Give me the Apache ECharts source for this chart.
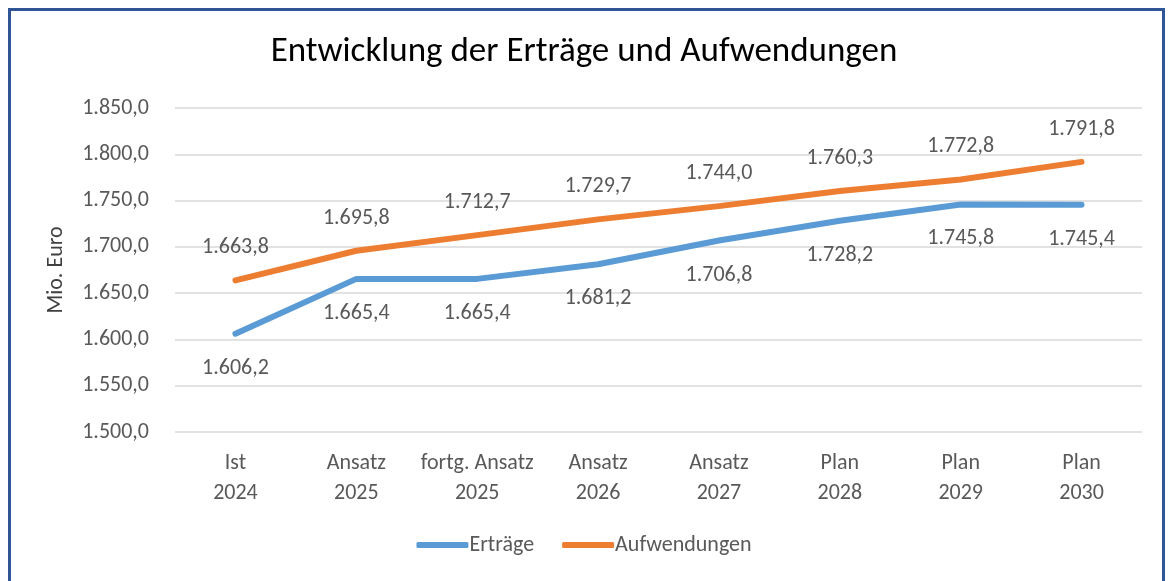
<!DOCTYPE html>
<html>
<head>
<meta charset="utf-8">
<script src="https://cdn.jsdelivr.net/npm/echarts@6/dist/echarts.min.js"></script>
<style>
html,body{margin:0;padding:0;background:#fff;}
#box{position:absolute;left:8px;top:8px;width:1157px;height:580px;border:3px solid #2F5597;border-bottom:none;box-sizing:border-box;}
#chart{position:absolute;left:0;top:0;width:1168px;height:581px;}
</style>
</head>
<body>
<div id="box"></div>
<div id="chart"></div>
<script>
// Kategorien und Werte (Mio. Euro)
var categories = ['Ist\n2024','Ansatz\n2025','fortg. Ansatz\n2025','Ansatz\n2026','Ansatz\n2027','Plan\n2028','Plan\n2029','Plan\n2030'];
var ertraege = [1606.2,1665.4,1665.4,1681.2,1706.8,1728.2,1745.8,1745.4];
var aufwendungen = [1663.8,1695.8,1712.7,1729.7,1744.0,1760.3,1772.8,1791.8];

var fontFam = 'Carlito, Lato, "Open Sans", sans-serif';
var txtSize = 22;

// deutsches Zahlenformat 1.234,5
var fmt = function(v){
	var s = Number(v).toFixed(1).split('.');
	var ganz = s[0].replace(/\B(?=(\d{3})+(?!\d))/g,'.');
	return ganz + ',' + s[1];
};

var chart = echarts.init(document.getElementById('chart'));
var option = {
	animation:false,
	title:{
		text:'Entwicklung der Erträge und Aufwendungen',
		left:'center',
		top:30,
		textStyle:{fontFamily:fontFam,fontSize:35,fontWeight:'normal',color:'#000'}
	},
	grid:{left:175,right:26,top:108,bottom:149},
	legend:{
		bottom:20,
		left:'center',
		itemWidth:52,
		itemHeight:6,
		itemGap:28,
		icon:'roundRect',
		textStyle:{fontFamily:fontFam,fontSize:txtSize,color:'#595959',padding:[0,0,0,-4]},
		data:['Erträge','Aufwendungen']
	},
	xAxis:{
		type:'category',
		data:categories,
		boundaryGap:true,
		axisLine:{show:false},
		axisTick:{show:false},
		axisLabel:{fontFamily:fontFam,fontSize:txtSize,color:'#595959',margin:16,lineHeight:30,interval:0}
	},
	yAxis:{
		type:'value',
		min:1500,
		max:1850,
		interval:50,
		name:'Mio. Euro',
		nameLocation:'middle',
		nameGap:108,
		nameTextStyle:{fontFamily:fontFam,fontSize:txtSize,color:'#404040'},
		axisLabel:{fontFamily:fontFam,fontSize:txtSize,color:'#595959',margin:26,formatter:fmt},
		splitLine:{lineStyle:{color:'#D9D9D9',width:1.5}}
	},
	series:[
		{
			name:'Erträge',
			type:'line',
			data:ertraege,
			symbol:'circle',
			symbolSize:1,
			lineStyle:{width:6,color:'#5B9BD5',cap:'round',join:'round'},
			itemStyle:{color:'#5B9BD5'},
			label:{show:true,position:'bottom',distance:23,formatter:function(p){return fmt(p.value);},fontFamily:fontFam,fontSize:txtSize,color:'#595959'}
		},
		{
			name:'Aufwendungen',
			type:'line',
			data:aufwendungen,
			symbol:'circle',
			symbolSize:1,
			lineStyle:{width:6,color:'#ED7D31',cap:'round',join:'round'},
			itemStyle:{color:'#ED7D31'},
			label:{show:true,position:'top',distance:21,formatter:function(p){return fmt(p.value);},fontFamily:fontFam,fontSize:txtSize,color:'#595959'}
		}
	]
};
chart.setOption(option);
</script>
</body>
</html>
